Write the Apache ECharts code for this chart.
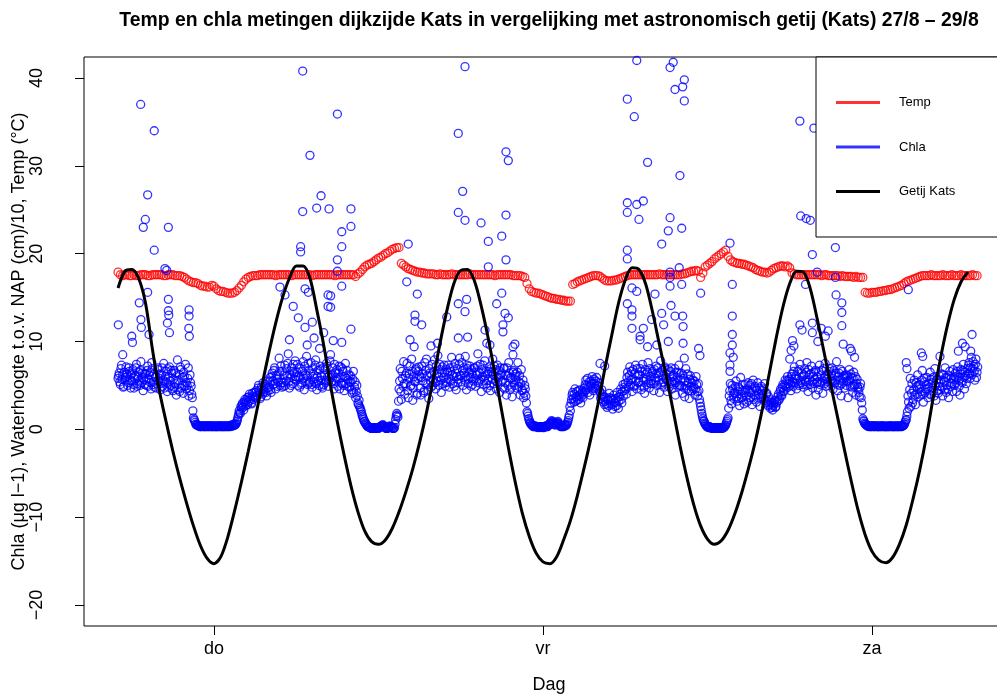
<!DOCTYPE html>
<html>
<head>
<meta charset="utf-8">
<script src="https://cdn.jsdelivr.net/npm/echarts@6/dist/echarts.min.js"></script>
<style>
html, body { margin: 0; padding: 0; background: #fff; }
#chart { width: 997px; height: 694px; }
</style>
</head>
<body>
<div id="chart"></div>
<script>
// Time axis in hours since Thursday 00:00 ("do"); day boundaries get the weekday labels.
const dayTicks = [0, 24, 48];
const dayLabels = ['do', 'vr', 'za'];
const valueTicks = [-20, -10, 0, 10, 20, 30, 40];

// Temperature (°C), one reading every 10 minutes from 17:00 on the previous day
const tempStart = -7;
const tempStep = 1 / 6;
const tempValues = [
  17.9, 17.6, 17.5, 17.6, 17.6, 17.5,
  17.5, 17.6, 17.5, 17.5, 17.6, 17.6,
  17.6, 17.5, 17.5, 17.6, 17.6, 17.6,
  17.6, 17.6, 17.5, 17.5, 17.6, 17.6,
  17.6, 17.5, 17.5, 17.5, 17.4, 17.3,
  17.1, 16.9, 16.8, 16.7, 16.7, 16.6,
  16.4, 16.3, 16.3, 16.2, 16.2, 16.4,
  16.3, 16.0, 15.8, 15.7, 15.7, 15.6,
  15.5, 15.5, 15.5, 15.6, 15.8, 16.1,
  16.4, 16.8, 17.1, 17.3, 17.4, 17.5,
  17.5, 17.5, 17.6, 17.6, 17.6, 17.6,
  17.6, 17.6, 17.6, 17.5, 17.6, 17.6,
  17.6, 17.6, 17.6, 17.6, 17.5, 17.6,
  17.6, 17.6, 17.6, 17.6, 17.6, 17.6,
  17.6, 17.5, 17.6, 17.6, 17.6, 17.6,
  17.6, 17.6, 17.6, 17.6, 17.6, 17.5,
  17.6, 17.6, 17.6, 17.6, 17.6, 17.6,
  17.6, 17.6, 17.4, 17.7, 17.9, 18.2,
  18.5, 18.7, 18.8, 18.9, 19.1, 19.3,
  19.5, 19.6, 19.8, 20.0, 20.1, 20.3,
  20.5, 20.6, 20.7, 20.7, 18.9, 18.7,
  18.5, 18.3, 18.2, 18.1, 18.0, 17.9,
  17.9, 17.8, 17.8, 17.7, 17.7, 17.7,
  17.7, 17.6, 17.6, 17.7, 17.6, 17.6,
  17.6, 17.6, 17.7, 17.6, 17.6, 17.6,
  17.6, 17.6, 17.6, 17.6, 17.7, 17.6,
  17.6, 17.6, 17.6, 17.6, 17.6, 17.6,
  17.6, 17.6, 17.6, 17.5, 17.6, 17.6,
  17.6, 17.6, 17.6, 17.6, 17.6, 17.5,
  17.5, 17.5, 17.5, 17.4, 17.3, 16.6,
  16.0, 15.7, 15.6, 15.5, 15.5, 15.4,
  15.3, 15.2, 15.1, 15.0, 14.9, 14.9,
  14.8, 14.8, 14.7, 14.7, 14.6, 14.6,
  14.6, 16.5, 16.6, 16.8, 16.9, 17.0,
  17.1, 17.2, 17.3, 17.4, 17.5, 17.5,
  17.5, 17.4, 17.2, 17.0, 16.9, 16.9,
  16.9, 17.0, 17.0, 17.1, 17.2, 17.3,
  17.4, 17.5, 17.6, 17.6, 17.6, 17.6,
  17.6, 17.6, 17.6, 17.6, 17.6, 17.6,
  17.6, 17.6, 17.6, 17.7, 17.6, 17.6,
  17.6, 17.6, 17.6, 17.6, 17.6, 17.6,
  17.6, 17.7, 17.7, 17.8, 17.9, 18.0,
  18.0, 18.1, 18.0, 17.3, 17.8, 18.5,
  18.7, 18.9, 19.1, 19.4, 19.6, 19.8,
  20.0, 20.2, 20.4, 19.7, 19.3, 19.1,
  19.0, 18.9, 18.9, 18.8, 18.8, 18.7,
  18.6, 18.5, 18.4, 18.2, 18.1, 18.0,
  17.9, 17.9, 17.8, 17.9, 18.1, 18.3,
  18.4, 18.5, 18.6, 18.6, 18.5, 18.6,
  18.4, 17.8, 17.7, 17.6, 17.6, 17.6,
  17.6, 17.6, 17.6, 17.6, 17.6, 17.6,
  17.6, 17.6, 17.5, 17.6, 17.6, 17.5,
  17.5, 17.5, 17.5, 17.5, 17.4, 17.5,
  17.4, 17.4, 17.4, 17.4, 17.3, 17.4,
  17.3, 17.3, 17.3, 15.6, 15.5, 15.5,
  15.6, 15.6, 15.6, 15.7, 15.7, 15.8,
  15.8, 15.9, 15.9, 16.0, 16.1, 16.2,
  16.3, 16.4, 16.6, 16.8, 16.9, 17.0,
  17.1, 17.2, 17.3, 17.4, 17.5, 17.5,
  17.5, 17.5, 17.6, 17.5, 17.5, 17.5,
  17.5, 17.6, 17.5, 17.5, 17.5, 17.6,
  17.5, 17.5, 17.5, 17.6, 17.5, 17.5,
  17.5, 17.5, 17.6, 17.5, 17.5
];

// Chlorophyll-a (µg/l), readings on the 5-minute marks
const chlaStart = -7;
const chlaStep = 1 / 12;
const chlaValues = [
  5.8, 6.4, 5.1, 7.3, 6.2, 4.9, 5.6, 7.1, 6.0, 5.3, 6.6, 4.7,
  5.5, 6.8, 4.7, 6.1, 7.4, 5.2, 6.5, 5.0, 7.7, 5.9, 4.4, 6.3,
  6.3, 5.0, 7.2, 5.7, 6.5, 4.6, 6.9, 5.4, 4.8, 6.0, 5.2, 7.0,
  5.8, 4.5, 6.2, 4.9, 7.5, 5.4, 6.6, 4.3, 5.9, 7.1, 5.0, 6.4,
  4.4, 6.7, 5.2, 3.9, 7.9, 5.6, 4.3, 6.8, 5.0, 4.1, 6.0, 7.4,
  4.6, 5.8, 3.8, 6.2, 4.9, 3.6, 1.3, 1.0, 0.6, 0.5, 0.4, 0.4,
  0.4, 0.3, 0.4, 0.4, 0.3, 0.3, 0.4, 0.3, 0.3, 0.4, 0.3, 0.3,
  0.3, 0.3, 0.4, 0.3, 0.3, 0.4, 0.3, 0.3, 0.3, 0.4, 0.4, 0.3,
  0.4, 0.3, 0.4, 0.4, 0.5, 0.4, 0.5, 0.6, 0.9, 1.4, 2.1, 1.8,
  2.4, 3.0, 2.2, 3.4, 2.7, 3.6, 3.1, 4.0, 3.3, 2.9, 3.8, 4.2,
  3.6, 4.4, 3.9, 5.0, 4.1, 3.7, 4.6, 5.3, 4.3, 4.9, 3.8, 5.5,
  4.8, 5.9, 4.2, 6.4, 5.1, 7.0, 4.6, 5.7, 6.2, 8.1, 5.0, 5.3,
  6.6, 4.9, 7.3, 5.5, 6.1, 8.6, 4.7, 5.9, 7.0, 5.2, 6.4, 7.8,
  5.6, 7.4, 6.0, 4.8, 6.9, 5.3, 7.7, 4.5, 6.2, 8.3, 5.1, 6.7,
  5.3, 7.6, 4.8, 6.3, 5.8, 7.9, 4.5, 6.7, 5.0, 7.2, 6.1, 4.7,
  5.1, 6.8, 5.6, 7.2, 4.9, 6.1, 8.5, 5.4, 7.0, 4.6, 6.4, 5.9,
  5.7, 6.4, 4.6, 7.1, 5.2, 6.6, 4.4, 7.5, 5.8, 4.9, 6.2, 5.4,
  5.4, 4.1, 6.6, 4.8, 3.6, 5.0, 3.0, 3.3, 2.4, 2.0, 1.5, 1.1,
  0.9, 0.6, 0.4, 0.3, 0.2, 0.2, 0.1, 0.1, 0.2, 0.1, 0.1, 0.2,
  0.1, 0.2, 0.3, 0.4, 0.5, 0.3, 0.2, 0.1, 0.1, 0.2, 0.4, 0.3,
  0.2, 0.1, 0.2, 1.1, 1.8, 1.4, 4.6, 6.9, 3.4, 5.8, 7.7, 4.0,
  5.2, 7.5, 3.6, 6.3, 4.9, 8.0, 3.3, 6.0, 5.4, 7.0, 4.1, 6.6,
  6.0, 3.9, 7.2, 5.5, 4.4, 6.7, 8.0, 5.1, 3.5, 6.4, 4.8, 7.4,
  5.7, 7.9, 4.6, 6.3, 8.4, 5.0, 6.8, 4.2, 7.1, 5.9, 6.5, 5.3,
  5.4, 7.3, 4.8, 6.6, 8.2, 5.2, 6.0, 7.5, 4.5, 6.9, 5.7, 8.1,
  6.1, 7.6, 5.0, 6.4, 8.3, 4.5, 6.9, 5.8, 7.2, 4.9, 6.3, 5.5,
  7.0, 4.9, 6.2, 8.6, 5.5, 7.4, 4.3, 6.0, 5.1, 7.8, 6.6, 4.7,
  5.6, 7.1, 4.4, 6.5, 8.0, 5.2, 6.8, 4.6, 7.3, 5.9, 4.2, 6.2,
  6.4, 4.8, 7.0, 5.3, 3.9, 6.1, 7.6, 4.5, 5.9, 3.7, 6.7, 5.0,
  6.3, 4.7, 7.6, 5.4, 3.9, 6.8, 4.5, 3.6, 5.0, 3.8, 2.0, 1.5,
  1.0, 0.7, 0.5, 0.4, 0.3, 0.4, 0.3, 0.2, 0.3, 0.3, 0.2, 0.3,
  0.3, 0.2, 0.3, 0.4, 0.3, 0.5, 0.6, 0.8, 0.9, 0.7, 0.6, 0.5,
  0.7, 0.9, 0.6, 0.4, 0.3, 0.4, 0.3, 0.5, 0.4, 0.6, 1.0, 1.6,
  2.1, 3.4, 4.2, 3.1, 4.6, 3.7, 3.3, 4.4, 3.9, 3.0, 4.1, 3.6,
  4.7, 5.1, 4.5, 5.8, 4.8, 3.9, 5.5, 6.0, 4.4, 5.2, 4.7, 5.9,
  4.6, 5.3, 4.2, 3.8, 4.0, 3.1, 2.8, 3.6, 2.5, 3.3, 4.1, 2.9,
  3.5, 2.3, 3.9, 2.6, 3.1, 4.2, 2.4, 3.7, 4.6, 3.0, 5.1, 4.4,
  5.2, 4.0, 6.5, 4.8, 7.1, 5.6, 4.3, 6.8, 5.0, 7.3, 4.6, 6.2,
  5.4, 6.9, 4.5, 7.4, 5.8, 4.1, 6.3, 5.1, 7.6, 4.7, 6.0, 5.5,
  6.6, 4.4, 5.9, 7.2, 5.0, 6.4, 4.2, 7.8, 5.3, 6.1, 4.8, 6.9,
  5.7, 4.3, 6.8, 5.2, 7.0, 4.6, 6.2, 5.5, 3.9, 6.5, 4.9, 7.3,
  5.0, 6.4, 4.1, 5.8, 3.7, 6.9, 4.6, 5.3, 3.5, 6.1, 4.4, 5.6,
  4.8, 3.9, 6.0, 4.3, 5.2, 3.4, 2.6, 1.8, 1.2, 0.9, 0.6, 0.4,
  0.3, 0.2, 0.3, 0.2, 0.1, 0.2, 0.1, 0.1, 0.2, 0.1, 0.2, 0.1,
  0.2, 0.1, 0.2, 0.3, 0.5, 0.9, 1.3, 3.8, 5.2, 2.9, 4.6, 3.5,
  4.1, 5.5, 3.2, 4.8, 2.7, 5.9, 3.6, 4.4, 2.9, 5.1, 3.8, 4.6,
  3.3, 5.0, 4.2, 2.8, 5.6, 3.9, 4.7, 3.1, 5.3, 4.0, 2.6, 4.9,
  4.4, 3.6, 5.2, 3.0, 4.1, 2.7, 3.4, 2.4, 3.1, 2.2, 2.9, 3.3,
  2.6, 3.2, 4.0, 3.5, 4.6, 3.8, 5.1, 4.3, 5.6, 4.7, 6.0, 5.2,
  5.5, 4.4, 6.3, 4.9, 7.1, 5.8, 4.6, 6.6, 5.0, 7.4, 5.3, 6.0,
  4.8, 6.9, 5.4, 7.6, 4.3, 6.2, 5.1, 7.2, 4.7, 6.5, 5.7, 3.9,
  6.0, 4.5, 7.3, 5.3, 6.7, 4.1, 5.8, 7.5, 4.9, 6.3, 5.0, 6.9,
  5.2, 7.0, 4.6, 6.1, 5.6, 7.7, 4.4, 6.4, 5.0, 3.8, 6.6, 5.4,
  4.7, 6.2, 5.5, 3.6, 6.8, 4.9, 5.9, 4.2, 6.5, 5.1, 3.9, 5.7,
  4.6, 3.7, 5.2, 3.0, 1.2, 0.9, 0.6, 0.5, 0.4, 0.3, 0.4, 0.3,
  0.3, 0.4, 0.3, 0.3, 0.4, 0.3, 0.3, 0.4, 0.3, 0.3, 0.4, 0.3,
  0.3, 0.3, 0.4, 0.3, 0.3, 0.4, 0.3, 0.4, 0.3, 0.3, 0.3, 0.4,
  0.3, 0.4, 0.3, 0.4, 0.5, 0.8, 1.1, 2.0, 3.1, 4.5, 2.6, 5.2,
  3.4, 5.6, 2.8, 4.9, 6.2, 3.7, 5.1, 4.3, 6.7, 3.1, 5.4, 4.6,
  5.9, 3.6, 4.8, 6.5, 3.9, 5.3, 4.4, 6.9, 3.3, 5.7, 4.1, 6.1,
  4.5, 6.3, 3.8, 5.5, 7.0, 4.2, 5.9, 3.6, 6.6, 4.9, 5.2, 6.8,
  5.0, 6.4, 4.3, 7.1, 5.6, 3.9, 6.8, 5.3, 7.4, 4.6, 6.1, 5.8,
  6.3, 7.6, 5.8, 8.2, 6.9, 7.2, 5.6, 8.0, 6.5
];

// Chlorophyll-a (µg/l), readings logged midway between the 5-minute marks
const chlaOffsetStart = -7 + 1 / 24;
const chlaOffsetValues = [
  6.1, 5.4, 6.9, 5.7, 4.8, 6.5, 5.9, 6.3, 5.0, 7.0, 5.6, 6.2,
  6.4, 5.1, 5.8, 7.0, 4.9, 6.0, 5.5, 6.7, 5.3, 6.4, 5.7, 5.1,
  5.6, 6.7, 4.9, 6.2, 5.3, 7.6, 5.1, 6.3, 5.9, 4.7, 6.8, 5.5,
  6.3, 5.2, 7.0, 5.6, 4.7, 6.0, 5.3, 6.9, 4.8, 5.5, 6.7, 4.6,
  5.7, 4.8, 6.4, 5.5, 4.5, 6.2, 7.1, 4.7, 5.9, 6.5, 4.9, 5.3,
  5.0, 7.0, 4.4, 5.3, 4.0, 2.1, 1.1, 0.8, 0.5, 0.5, 0.4, 0.3,
  0.3, 0.4, 0.3, 0.3, 0.4, 0.4, 0.3, 0.4, 0.4, 0.3, 0.4, 0.4,
  0.4, 0.3, 0.3, 0.4, 0.4, 0.3, 0.4, 0.4, 0.3, 0.3, 0.3, 0.4,
  0.3, 0.4, 0.3, 0.5, 0.4, 0.5, 0.5, 0.7, 1.1, 1.7, 1.9, 2.6,
  2.8, 2.5, 3.1, 2.9, 3.3, 2.8, 3.7, 3.5, 3.0, 4.1, 3.4, 3.7,
  4.2, 3.8, 4.7, 4.4, 3.5, 4.8, 4.0, 4.5, 5.1, 4.2, 4.7, 4.4,
  5.4, 4.5, 6.0, 5.5, 6.7, 5.2, 6.1, 4.9, 5.4, 6.6, 7.2, 4.8,
  5.3, 6.2, 5.0, 6.9, 7.5, 5.4, 6.3, 5.0, 6.6, 7.4, 5.7, 6.0,
  6.5, 5.0, 7.0, 5.9, 5.1, 6.6, 5.8, 7.2, 5.5, 6.1, 7.5, 5.4,
  6.4, 5.1, 6.9, 5.4, 7.3, 5.2, 6.0, 5.5, 6.8, 5.6, 4.9, 7.0,
  6.2, 5.3, 7.5, 6.0, 5.5, 7.8, 5.9, 6.3, 5.2, 7.4, 5.5, 6.8,
  4.9, 7.2, 5.9, 5.3, 6.9, 5.0, 6.0, 5.2, 6.7, 5.6, 4.8, 6.1,
  4.5, 5.7, 4.2, 5.4, 4.3, 3.8, 2.8, 2.6, 2.2, 1.7, 1.3, 0.9,
  0.7, 0.5, 0.3, 0.3, 0.2, 0.1, 0.1, 0.2, 0.1, 0.1, 0.2, 0.1,
  0.2, 0.3, 0.4, 0.5, 0.4, 0.2, 0.1, 0.1, 0.2, 0.3, 0.3, 0.2,
  0.1, 0.1, 0.6, 1.5, 1.6, 3.2, 5.5, 4.3, 6.6, 4.9, 5.2, 6.1,
  6.4, 4.4, 5.8, 7.2, 5.0, 6.6, 4.7, 5.5, 6.8, 3.9, 5.8, 7.1,
  4.7, 5.9, 6.3, 4.2, 7.6, 5.2, 6.1, 4.5, 6.9, 5.5, 6.2, 5.0,
  6.6, 5.3, 7.2, 5.5, 6.0, 7.4, 5.6, 6.4, 5.2, 7.3, 4.9, 6.8,
  6.5, 5.8, 7.0, 5.5, 6.2, 7.1, 4.9, 6.4, 6.0, 5.3, 7.4, 6.1,
  5.4, 6.7, 7.0, 5.6, 6.0, 7.3, 5.2, 6.5, 5.9, 6.8, 5.1, 7.0,
  5.8, 6.5, 7.2, 5.3, 6.4, 5.7, 6.8, 7.3, 5.6, 6.1, 5.2, 6.3,
  6.6, 5.0, 6.9, 5.7, 6.2, 7.2, 5.5, 6.0, 5.3, 6.7, 7.0, 5.4,
  5.5, 6.9, 4.6, 6.2, 7.0, 5.0, 6.4, 5.8, 4.8, 6.5, 5.3, 6.0,
  5.6, 6.5, 4.9, 6.1, 5.2, 4.4, 5.6, 4.1, 4.6, 3.0, 1.8, 1.2,
  0.8, 0.6, 0.5, 0.3, 0.4, 0.3, 0.3, 0.3, 0.2, 0.3, 0.3, 0.2,
  0.2, 0.3, 0.4, 0.3, 0.4, 0.6, 0.7, 1.0, 0.8, 0.6, 0.5, 0.6,
  0.8, 0.7, 0.5, 0.3, 0.4, 0.3, 0.4, 0.5, 0.5, 0.8, 1.3, 2.6,
  3.0, 3.9, 3.5, 4.0, 3.2, 4.3, 3.8, 3.4, 4.5, 3.7, 4.3, 4.0,
  4.3, 5.6, 5.0, 4.2, 5.4, 4.9, 5.2, 4.6, 5.7, 4.9, 5.5, 5.0,
  4.9, 4.4, 3.5, 4.5, 3.4, 3.7, 3.2, 2.9, 3.4, 2.7, 3.6, 3.4,
  2.8, 3.3, 3.0, 3.5, 2.7, 3.6, 3.2, 4.0, 3.4, 4.3, 3.8, 4.8,
  4.6, 5.9, 5.4, 6.1, 5.0, 6.6, 5.7, 4.9, 6.3, 5.5, 6.9, 5.3,
  6.2, 5.0, 6.6, 5.5, 4.8, 6.8, 5.7, 6.5, 5.3, 6.9, 5.2, 6.4,
  5.2, 6.8, 5.5, 6.3, 7.0, 5.6, 6.5, 5.1, 6.7, 5.4, 7.1, 5.8,
  6.3, 5.5, 4.8, 6.6, 5.4, 6.0, 5.1, 6.9, 5.3, 5.9, 6.4, 5.0,
  5.6, 4.9, 6.2, 4.7, 5.5, 5.0, 6.3, 4.4, 5.7, 4.9, 5.3, 4.6,
  5.5, 4.6, 5.1, 3.8, 4.4, 3.0, 2.2, 1.5, 1.0, 0.7, 0.5, 0.3,
  0.2, 0.3, 0.2, 0.1, 0.2, 0.1, 0.2, 0.2, 0.1, 0.2, 0.1, 0.2,
  0.1, 0.2, 0.2, 0.4, 0.7, 1.1, 2.4, 4.4, 3.3, 5.0, 3.9, 4.2,
  4.9, 3.7, 4.3, 3.5, 4.6, 4.0, 5.1, 3.3, 4.2, 4.5, 3.1, 5.3,
  4.3, 3.6, 5.2, 4.5, 3.4, 4.9, 3.8, 4.4, 3.6, 4.7, 3.7, 4.1,
  3.9, 4.6, 3.3, 4.0, 3.2, 3.7, 2.8, 3.0, 2.5, 2.7, 3.1, 2.5,
  3.0, 3.7, 3.3, 4.3, 3.9, 4.8, 4.4, 5.0, 4.9, 5.5, 4.8, 5.7,
  5.0, 6.0, 5.4, 6.6, 5.3, 6.1, 5.7, 5.2, 6.8, 5.6, 6.4, 5.1,
  6.2, 5.5, 6.5, 5.0, 6.8, 5.6, 6.3, 5.4, 6.0, 5.2, 6.7, 5.3,
  5.4, 6.6, 5.1, 6.2, 5.5, 6.9, 5.2, 6.0, 5.7, 5.4, 6.6, 5.5,
  6.3, 5.5, 6.7, 5.3, 6.4, 5.1, 6.0, 5.6, 6.8, 5.2, 5.8, 6.1,
  5.9, 5.0, 6.1, 5.4, 5.6, 6.3, 4.8, 5.8, 4.9, 6.0, 5.2, 4.8,
  4.2, 4.8, 3.6, 2.2, 1.0, 0.7, 0.6, 0.4, 0.4, 0.4, 0.3, 0.4,
  0.4, 0.3, 0.4, 0.4, 0.3, 0.3, 0.4, 0.3, 0.4, 0.4, 0.3, 0.3,
  0.4, 0.3, 0.3, 0.4, 0.4, 0.3, 0.3, 0.3, 0.4, 0.4, 0.3, 0.3,
  0.4, 0.3, 0.4, 0.4, 0.6, 1.0, 1.5, 3.8, 2.4, 5.8, 4.1, 3.0,
  4.5, 3.9, 5.3, 4.0, 5.0, 4.6, 3.9, 5.6, 4.0, 5.8, 4.2, 5.1,
  4.6, 5.2, 4.0, 5.7, 4.7, 5.9, 3.8, 5.0, 5.6, 4.4, 5.3, 4.9,
  5.6, 4.8, 6.2, 4.5, 5.9, 5.0, 4.6, 6.1, 5.3, 5.8, 4.3, 5.7,
  6.0, 5.3, 6.6, 5.9, 4.9, 6.3, 5.5, 6.7, 5.9, 6.5, 5.2, 6.9,
  7.3, 6.4, 7.0, 6.2, 7.7, 6.6, 7.4, 5.9, 7.1
];

// Short chlorophyll peaks: [hour, µg/l]
const chlaPeaks = [
  [-6.98, 11.9], [-6.66, 8.5], [-6.0, 10.6], [-5.95, 9.9], [-5.45, 14.4], [-5.35, 37.0],
  [-5.33, 12.5], [-5.3, 11.6], [-5.16, 23.0], [-5.01, 23.9], [-4.84, 26.7], [-4.84, 15.6],
  [-4.74, 10.8], [-4.36, 34.0], [-4.36, 20.4], [-3.58, 18.3], [-3.45, 18.1], [-3.4, 12.1],
  [-3.33, 23.0], [-3.33, 14.8], [-3.33, 13.5], [-3.3, 13.0], [-3.25, 11.0], [-1.84, 11.5],
  [-1.82, 13.6], [-1.82, 12.9], [-1.8, 10.6],
  [4.81, 16.2], [5.18, 15.3], [5.5, 10.2], [5.78, 14.0], [6.15, 12.7], [6.32, 20.8],
  [6.32, 20.2], [6.47, 40.8], [6.47, 24.8], [6.64, 16.0], [6.64, 11.6], [6.8, 9.6],
  [6.88, 15.6], [7.0, 31.2], [7.17, 12.2], [7.3, 10.4], [7.49, 25.2], [7.7, 9.2],
  [7.81, 26.6], [8.0, 11.0], [8.32, 15.3], [8.32, 14.0], [8.39, 25.1], [8.51, 15.2],
  [8.51, 13.9], [8.7, 10.1], [9.0, 35.9], [9.0, 19.3], [9.0, 18.0], [9.32, 22.5],
  [9.32, 20.8], [9.32, 16.3], [9.32, 9.9], [9.99, 25.1], [9.99, 23.1], [9.99, 11.4],
  [14.06, 16.8], [14.17, 21.1], [14.3, 10.2], [14.6, 9.4], [14.66, 13.0], [14.66, 12.3],
  [14.83, 15.4], [15.15, 11.9], [15.83, 9.5], [16.3, 9.8], [16.98, 12.8], [17.82, 42.6],
  [17.82, 33.7], [17.82, 24.7], [17.82, 14.3], [17.82, 10.4], [18.14, 27.1], [18.31, 41.3],
  [18.31, 23.8], [18.31, 13.4], [18.43, 14.8], [18.5, 10.5], [19.48, 23.5], [19.77, 11.3],
  [19.9, 9.8], [20.01, 21.4], [20.01, 18.5], [20.13, 9.6], [20.62, 14.3], [20.99, 22.0],
  [20.99, 15.5], [21.08, 11.9], [21.08, 11.1], [21.23, 13.2], [21.3, 31.6], [21.3, 24.4],
  [21.3, 19.3], [21.47, 30.6], [21.47, 12.7], [21.81, 9.4], [21.81, 8.5], [21.95, 9.7],
  [28.16, 7.5], [28.5, 7.2], [30.15, 42.7], [30.15, 37.6], [30.15, 25.8], [30.15, 24.7],
  [30.15, 20.4], [30.15, 19.4], [30.15, 14.3], [30.49, 16.1], [30.49, 13.6], [30.49, 12.9],
  [30.49, 11.5], [30.66, 35.6], [30.84, 42.0], [30.84, 25.6], [30.84, 15.7], [31.0, 23.9],
  [31.08, 10.6], [31.08, 10.2], [31.32, 26.0], [31.32, 11.5], [31.63, 30.4], [31.63, 9.4],
  [31.93, 12.5], [32.17, 15.4], [32.3, 9.6], [32.66, 21.1], [32.66, 13.2], [32.8, 11.9],
  [33.14, 22.6], [33.14, 10.0], [33.27, 41.2], [33.27, 24.1], [33.27, 17.9], [33.27, 17.3],
  [33.27, 16.3], [33.34, 14.1], [33.5, 41.8], [33.63, 38.7], [33.63, 12.9], [33.94, 18.4],
  [33.99, 28.9], [34.12, 22.9], [34.12, 16.5], [34.19, 39.0], [34.19, 12.9], [34.22, 11.7],
  [34.22, 9.8], [34.31, 39.8], [34.31, 37.4], [34.31, 8.1], [35.35, 9.2], [35.45, 8.4],
  [35.5, 15.5], [37.64, 21.2], [37.64, 8.7], [37.64, 7.3], [37.64, 6.6], [37.81, 16.5],
  [37.81, 12.9], [37.81, 10.8], [37.81, 9.6], [37.88, 8.2],
  [42.0, 8.0], [42.1, 9.0], [42.2, 10.1], [42.3, 9.5], [42.74, 35.1], [42.74, 11.9],
  [42.8, 24.3], [42.9, 11.3], [43.15, 16.5], [43.2, 24.0], [43.5, 23.8], [43.65, 19.9],
  [43.65, 12.1], [43.65, 11.0], [43.76, 34.3], [44.0, 17.9], [44.05, 10.0], [44.3, 11.5],
  [44.6, 10.6], [44.8, 11.2], [45.33, 20.7], [45.33, 17.3], [45.38, 15.3], [45.8, 14.4],
  [45.8, 13.3], [45.8, 11.8], [45.9, 9.7], [46.41, 9.2], [46.5, 8.9], [46.73, 8.2],
  [50.5, 7.6], [50.55, 6.9], [50.65, 15.9], [51.6, 8.7], [51.7, 8.3], [52.96, 8.3],
  [54.3, 8.9], [54.6, 9.8], [54.8, 9.4], [55.2, 8.9], [55.3, 10.8]
];

// Astronomical tide at Kats, water level vs NAP (cm/10), every 30 minutes
const tideStart = -7;
const tideStep = 0.5;
const tideValues = [
  16.1, 18.0, 18.2, 17.2, 14.4, 9.2, 4.5, 0.9, -2.5, -5.6, -8.4, -11.0, -13.2, -14.7,
  -15.3, -14.5, -12.3, -9.3, -6.0, -2.5, 1.2, 5.0, 8.7, 12.1, 15.0, 17.2, 18.6, 18.6,
  17.2, 13.6, 9.6, 5.0, 0.8, -3.0, -6.5, -9.4, -11.6, -12.8, -13.1, -12.6, -11.3, -9.4,
  -7.1, -4.5, -1.5, 1.9, 5.8, 9.9, 13.6, 16.6, 18.1, 18.2, 16.9, 14.0, 10.4, 6.3,
  2.0, -2.3, -6.2, -9.6, -12.2, -14.1, -15.1, -15.3, -14.5, -12.6, -10.4, -7.6, -4.4, -1.0,
  2.8, 6.8, 10.6, 14.3, 17.0, 18.4, 18.2, 16.5, 13.3, 9.6, 6.0, 2.1, -1.9, -5.5,
  -8.6, -11.0, -12.5, -13.1, -12.7, -11.5, -9.6, -7.2, -4.4, -1.3, 2.3, 6.3, 10.3, 13.9,
  16.6, 18.0, 17.9, 16.0, 12.6, 8.8, 5.0, 1.3, -2.4, -6.0, -9.3, -12.0, -13.9, -14.9,
  -15.2, -14.6, -13.1, -10.9, -7.9, -4.5, -0.6, 3.9, 8.1, 11.8, 14.8, 16.8, 17.9
];

const FONT = '"Liberation Sans", Arial, Helvetica, sans-serif';

function timed(values, start, step) {
  return values.map((v, i) => [start + i * step, v]);
}

const tempData = timed(tempValues, tempStart, tempStep);
const chlaData = timed(chlaValues, chlaStart, chlaStep)
  .concat(timed(chlaOffsetValues, chlaOffsetStart, chlaStep))
  .concat(chlaPeaks);
const tideData = timed(tideValues, tideStart, tideStep);

const chart = echarts.init(document.getElementById('chart'), null, { renderer: 'canvas' });

const hollow = (color) => ({ color: 'rgba(0,0,0,0)', borderColor: color, borderWidth: 1.3 });

chart.setOption({
  animation: false,
  backgroundColor: '#fff',
  title: {
    text: 'Temp en chla metingen dijkzijde Kats in vergelijking met astronomisch getij (Kats) 27/8 \u2013 29/8',
    left: 544,
    top: 6,
    textAlign: 'center',
    textStyle: { fontFamily: FONT, fontSize: 19.4, fontWeight: 'bold', color: '#000' }
  },
  legend: {
    orient: 'vertical',
    left: 816,
    top: 57,
    padding: [39, 110, 39, 20],
    itemGap: 31.5,
    itemWidth: 44,
    itemHeight: 3,
    selectedMode: false,
    backgroundColor: '#fff',
    borderColor: '#000',
    borderWidth: 1,
    textStyle: { fontFamily: FONT, fontSize: 13, color: '#000', padding: [0, 0, 0, 14] },
    data: [
      { name: 'Temp', icon: 'rect', itemStyle: { color: '#ff0000', borderWidth: 0 } },
      { name: 'Chla', icon: 'rect', itemStyle: { color: '#0000ff', borderWidth: 0 } },
      { name: 'Getij Kats', icon: 'rect', itemStyle: { color: '#000000', borderWidth: 0 } }
    ]
  },
  grid: {
    left: 84,
    top: 57,
    width: 930,
    height: 569,
    outerBoundsMode: 'none',
    containLabel: false,
    show: true,
    borderColor: '#000',
    borderWidth: 1,
    backgroundColor: 'transparent'
  },
  xAxis: {
    type: 'value',
    min: -9.484,
    max: 58.36,
    splitLine: { show: false },
    axisLine: { show: false, onZero: false },
    axisTick: { show: true, length: 9, customValues: dayTicks, lineStyle: { color: '#000' } },
    axisLabel: {
      customValues: dayTicks,
      margin: 14,
      fontFamily: FONT,
      fontSize: 18,
      color: '#000',
      formatter: (v) => dayLabels[dayTicks.indexOf(v)] || ''
    },
    name: 'Dag',
    nameLocation: 'middle',
    nameGap: 50,
    nameMoveOverlap: false,
    nameTextStyle: { fontFamily: FONT, fontSize: 18, color: '#000' }
  },
  yAxis: {
    type: 'value',
    min: -22.4,
    max: 42.4,
    splitLine: { show: false },
    axisLine: { show: false, onZero: false },
    axisTick: { show: true, length: 9, customValues: valueTicks, lineStyle: { color: '#000' } },
    axisLabel: {
      customValues: valueTicks,
      rotate: 90,
      margin: 38,
      fontFamily: FONT,
      fontSize: 18,
      color: '#000',
      formatter: (v) => String(v).replace('-', '\u2212')
    },
    name: 'Chla (\u03bcg l\u22121), Waterhoogte t.o.v. NAP (cm)/10, Temp (\u00b0C)',
    nameLocation: 'middle',
    nameRotate: 90,
    nameGap: 56,
    nameMoveOverlap: false,
    nameTextStyle: { fontFamily: FONT, fontSize: 18, color: '#000' }
  },
  series: [
    {
      name: 'Temp',
      type: 'scatter',
      symbol: 'circle',
      symbolSize: 8,
      itemStyle: hollow('#ff0000'),
      data: tempData
    },
    {
      name: 'Chla',
      type: 'scatter',
      symbol: 'circle',
      symbolSize: 8,
      itemStyle: hollow('#0000ff'),
      data: chlaData
    },
    {
      name: 'Getij Kats',
      type: 'line',
      showSymbol: false,
      symbol: 'none',
      smooth: 0.3,
      lineStyle: { color: '#000', width: 3 },
      itemStyle: { color: '#000' },
      data: tideData
    }
  ]
});
</script>
</body>
</html>
